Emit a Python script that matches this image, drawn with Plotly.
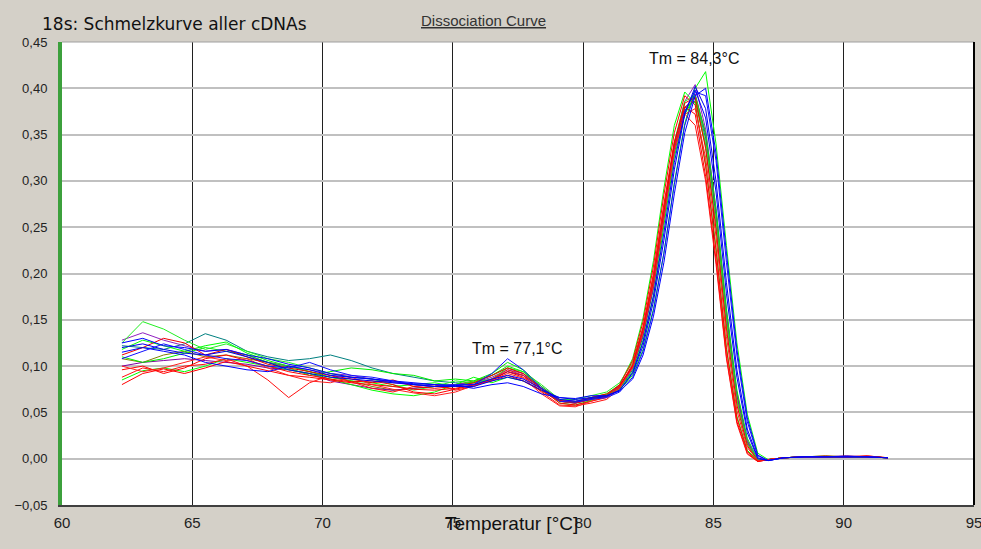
import plotly.graph_objects as go

# Temperatures (°C), shared by all curves
temps = [62.3, 63.1, 63.9, 64.7, 65.5, 66.3, 67.1, 67.9, 68.7, 69.5, 70.3, 71.1, 71.9, 72.7,
         73.5, 74.3, 75.1, 75.8, 76.5, 77.1, 77.7, 78.4, 79.1, 79.7, 80.3,
         80.9, 81.4, 81.9, 82.3, 82.7, 83.1, 83.5, 83.9, 84.3, 84.7, 85.1, 85.5, 85.9, 86.3, 86.7, 87.1,
         87.7, 88.5, 89.3, 90.1, 90.9, 91.7]

# -dF/dT values per sample
R1 = [0.080, 0.092, 0.097, 0.092, 0.098, 0.105, 0.100, 0.095, 0.090, 0.088, 0.085, 0.082, 0.080, 0.078, 0.075, 0.074, 0.076, 0.080, 0.085, 0.094, 0.088, 0.075, 0.060, 0.058, 0.062,
      0.066, 0.078, 0.102, 0.142, 0.200, 0.275, 0.342, 0.380, 0.372, 0.305, 0.215, 0.110, 0.040, 0.006, -0.003, -0.001, 0.001, 0.002, 0.003, 0.002, 0.003, 0.001]
R2 = [0.088, 0.098, 0.094, 0.100, 0.102, 0.108, 0.100, 0.085, 0.066, 0.082, 0.090, 0.083, 0.076, 0.072, 0.078, 0.080, 0.074, 0.078, 0.086, 0.096, 0.090, 0.072, 0.058, 0.057, 0.060,
      0.064, 0.076, 0.100, 0.140, 0.198, 0.272, 0.338, 0.372, 0.360, 0.300, 0.210, 0.108, 0.038, 0.005, -0.003, -0.001, 0.001, 0.002, 0.002, 0.002, 0.002, 0.001]
R3 = [0.096, 0.100, 0.092, 0.098, 0.108, 0.112, 0.106, 0.100, 0.094, 0.090, 0.086, 0.083, 0.084, 0.080, 0.072, 0.070, 0.075, 0.080, 0.084, 0.090, 0.084, 0.073, 0.062, 0.060, 0.064,
      0.068, 0.080, 0.106, 0.148, 0.208, 0.285, 0.352, 0.392, 0.382, 0.316, 0.225, 0.118, 0.044, 0.008, -0.003, -0.001, 0.001, 0.002, 0.002, 0.003, 0.002, 0.001]
R4 = [0.112, 0.120, 0.130, 0.125, 0.112, 0.118, 0.110, 0.102, 0.098, 0.094, 0.090, 0.086, 0.082, 0.085, 0.078, 0.076, 0.078, 0.082, 0.090, 0.098, 0.092, 0.076, 0.063, 0.061, 0.066,
      0.070, 0.079, 0.100, 0.138, 0.192, 0.268, 0.340, 0.384, 0.390, 0.335, 0.248, 0.140, 0.058, 0.014, -0.002, -0.001, 0.001, 0.002, 0.002, 0.002, 0.003, 0.001]
R5 = [0.100, 0.094, 0.098, 0.104, 0.110, 0.106, 0.108, 0.098, 0.090, 0.084, 0.082, 0.088, 0.080, 0.075, 0.071, 0.068, 0.072, 0.079, 0.085, 0.092, 0.087, 0.070, 0.057, 0.056, 0.062,
      0.067, 0.077, 0.098, 0.136, 0.188, 0.262, 0.332, 0.372, 0.378, 0.325, 0.240, 0.132, 0.052, 0.012, -0.002, -0.001, 0.001, 0.002, 0.002, 0.002, 0.002, 0.001]
G1 = [0.125, 0.148, 0.140, 0.128, 0.118, 0.124, 0.116, 0.108, 0.104, 0.098, 0.092, 0.088, 0.086, 0.080, 0.074, 0.078, 0.084, 0.082, 0.086, 0.098, 0.094, 0.080, 0.064, 0.064, 0.068,
      0.072, 0.082, 0.104, 0.142, 0.196, 0.270, 0.342, 0.386, 0.392, 0.340, 0.255, 0.148, 0.062, 0.016, -0.001, -0.001, 0.001, 0.002, 0.002, 0.002, 0.002, 0.001]
G2 = [0.085, 0.095, 0.098, 0.094, 0.100, 0.108, 0.104, 0.100, 0.096, 0.092, 0.086, 0.080, 0.074, 0.070, 0.068, 0.072, 0.080, 0.088, 0.082, 0.088, 0.084, 0.074, 0.062, 0.061, 0.066,
      0.070, 0.080, 0.108, 0.152, 0.214, 0.292, 0.360, 0.396, 0.384, 0.318, 0.228, 0.120, 0.046, 0.009, -0.002, -0.001, 0.001, 0.002, 0.002, 0.002, 0.002, 0.001]
G3 = [0.110, 0.104, 0.108, 0.114, 0.120, 0.116, 0.112, 0.104, 0.098, 0.090, 0.094, 0.098, 0.096, 0.092, 0.090, 0.084, 0.086, 0.084, 0.092, 0.104, 0.096, 0.078, 0.062, 0.061, 0.065,
      0.069, 0.076, 0.094, 0.128, 0.176, 0.252, 0.326, 0.372, 0.392, 0.352, 0.270, 0.162, 0.074, 0.022, -0.001, -0.001, 0.001, 0.002, 0.003, 0.002, 0.002, 0.001]
G4 = [0.118, 0.128, 0.122, 0.116, 0.122, 0.126, 0.114, 0.106, 0.100, 0.094, 0.088, 0.084, 0.082, 0.078, 0.080, 0.082, 0.078, 0.083, 0.090, 0.100, 0.094, 0.076, 0.060, 0.058, 0.063,
      0.068, 0.074, 0.090, 0.118, 0.162, 0.222, 0.298, 0.362, 0.400, 0.418, 0.340, 0.230, 0.125, 0.048, 0.006, -0.001, 0.001, 0.002, 0.002, 0.002, 0.002, 0.001]
B1 = [0.120, 0.124, 0.118, 0.114, 0.112, 0.116, 0.110, 0.104, 0.096, 0.092, 0.088, 0.086, 0.084, 0.082, 0.080, 0.078, 0.078, 0.078, 0.084, 0.088, 0.084, 0.074, 0.066, 0.064, 0.066,
      0.068, 0.074, 0.092, 0.122, 0.170, 0.236, 0.312, 0.372, 0.402, 0.378, 0.300, 0.190, 0.096, 0.032, 0.001, -0.002, 0.001, 0.002, 0.002, 0.002, 0.002, 0.001]
B2 = [0.108, 0.116, 0.124, 0.118, 0.112, 0.108, 0.106, 0.100, 0.098, 0.104, 0.096, 0.090, 0.088, 0.084, 0.080, 0.078, 0.080, 0.080, 0.092, 0.108, 0.096, 0.076, 0.062, 0.061, 0.064,
      0.066, 0.072, 0.088, 0.116, 0.160, 0.222, 0.296, 0.360, 0.396, 0.392, 0.322, 0.212, 0.112, 0.040, 0.003, -0.002, 0.001, 0.002, 0.002, 0.003, 0.002, 0.001]
B3 = [0.125, 0.130, 0.122, 0.120, 0.116, 0.118, 0.112, 0.108, 0.102, 0.098, 0.092, 0.088, 0.086, 0.084, 0.082, 0.080, 0.079, 0.076, 0.080, 0.082, 0.078, 0.070, 0.066, 0.065, 0.068,
      0.068, 0.073, 0.086, 0.112, 0.154, 0.212, 0.286, 0.352, 0.392, 0.400, 0.330, 0.222, 0.118, 0.044, 0.004, -0.002, 0.001, 0.002, 0.002, 0.002, 0.002, 0.001]
B4 = [0.115, 0.120, 0.116, 0.112, 0.104, 0.100, 0.096, 0.094, 0.100, 0.096, 0.090, 0.088, 0.086, 0.083, 0.081, 0.080, 0.079, 0.080, 0.086, 0.090, 0.086, 0.076, 0.064, 0.062, 0.065,
      0.067, 0.074, 0.093, 0.126, 0.176, 0.244, 0.320, 0.374, 0.398, 0.368, 0.288, 0.178, 0.088, 0.028, 0.000, -0.002, 0.001, 0.002, 0.002, 0.002, 0.002, 0.001]
P1 = [0.128, 0.136, 0.128, 0.122, 0.116, 0.118, 0.112, 0.104, 0.100, 0.096, 0.092, 0.090, 0.086, 0.082, 0.080, 0.078, 0.080, 0.082, 0.088, 0.096, 0.092, 0.078, 0.064, 0.062, 0.066,
      0.069, 0.078, 0.100, 0.138, 0.192, 0.268, 0.340, 0.386, 0.404, 0.356, 0.270, 0.160, 0.072, 0.020, -0.002, -0.001, 0.001, 0.002, 0.002, 0.002, 0.002, 0.001]
P2 = [0.100, 0.104, 0.106, 0.108, 0.106, 0.104, 0.102, 0.098, 0.096, 0.092, 0.084, 0.080, 0.076, 0.074, 0.076, 0.078, 0.080, 0.082, 0.086, 0.094, 0.090, 0.076, 0.062, 0.060, 0.064,
      0.068, 0.077, 0.098, 0.134, 0.186, 0.262, 0.334, 0.378, 0.394, 0.350, 0.266, 0.156, 0.070, 0.019, -0.002, -0.001, 0.001, 0.002, 0.002, 0.002, 0.002, 0.001]
T1 = [0.122, 0.120, 0.118, 0.124, 0.135, 0.128, 0.116, 0.110, 0.106, 0.108, 0.112, 0.106, 0.098, 0.092, 0.088, 0.084, 0.082, 0.080, 0.086, 0.094, 0.090, 0.076, 0.064, 0.062, 0.066,
      0.068, 0.076, 0.096, 0.132, 0.184, 0.258, 0.330, 0.376, 0.390, 0.346, 0.262, 0.152, 0.068, 0.018, -0.002, -0.001, 0.001, 0.002, 0.002, 0.002, 0.002, 0.001]
O1 = [0.108, 0.104, 0.112, 0.116, 0.110, 0.112, 0.108, 0.104, 0.100, 0.094, 0.088, 0.084, 0.078, 0.074, 0.076, 0.078, 0.080, 0.084, 0.090, 0.098, 0.092, 0.076, 0.062, 0.060, 0.064,
      0.069, 0.078, 0.099, 0.136, 0.190, 0.264, 0.336, 0.380, 0.386, 0.338, 0.254, 0.146, 0.064, 0.016, -0.002, -0.001, 0.001, 0.002, 0.002, 0.002, 0.002, 0.001]

series = [
    (T1, "#008080"), (O1, "#808000"), (P2, "#8000a0"), (P1, "#9020c0"),
    (G3, "#00ee00"), (G2, "#00ff00"), (G1, "#22ee22"), (G4, "#00ff00"),
    (R1, "#ff0000"), (R2, "#ff1010"), (R3, "#ff0000"), (R4, "#ee0000"), (R5, "#ff2020"),
    (B4, "#0000ff"), (B3, "#0000ff"), (B2, "#1010ff"), (B1, "#0000ee"),
]

x_ticks = [60, 65, 70, 75, 80, 85, 90, 95]
y_ticks = [-0.05, 0.0, 0.05, 0.10, 0.15, 0.20, 0.25, 0.30, 0.35, 0.40, 0.45]

fig = go.Figure()
for ys, col in series:
    fig.add_trace(go.Scatter(x=temps, y=ys, mode="lines",
                             line=dict(color=col, width=1), showlegend=False,
                             hoverinfo="skip"))

font_main = "Liberation Sans, Arial, sans-serif"
fig.update_layout(
    width=981, height=549,
    margin=dict(l=62, r=7, t=42, b=44),
    paper_bgcolor="#d4d0c8", plot_bgcolor="white",
    separators=",.",
    showlegend=False,
    font=dict(family=font_main, color="#222222"),
    xaxis=dict(range=[60, 95], tickvals=x_ticks, showgrid=True, gridcolor="#202020",
               gridwidth=1, zeroline=False, showline=True, linecolor="#404040",
               linewidth=2, ticks="", automargin=False, ticklabeloverflow="allow",
               tickfont=dict(size=15, family="Liberation Sans Narrow, Arial Narrow, sans-serif", color="#222222"),
               ticklabelstandoff=3),
    yaxis=dict(range=[-0.05, 0.45], tickvals=y_ticks, tickformat=".2f", showgrid=True,
               gridcolor="#c0c0c0", gridwidth=2, zeroline=False, showline=True,
               linecolor="#3ca03c", linewidth=4, ticks="",
               tickfont=dict(size=13, color="#222222"), ticklabelstandoff=8),
)

# frame: top (grey) and right (black)
fig.add_shape(type="line", xref="paper", yref="paper", x0=0, x1=1, y0=1, y1=1,
              line=dict(color="#a0a0a0", width=1))
fig.add_shape(type="line", xref="paper", yref="paper", x0=1, x1=1, y0=0, y1=1,
              line=dict(color="#000000", width=2))

fig.add_annotation(x=-0.024, xref="paper", y=1.039, yref="paper", xanchor="left",
                   yanchor="middle", text="18s: Schmelzkurve aller cDNAs", showarrow=False,
                   font=dict(size=17, color="#111111", family="DejaVu Sans, sans-serif"))
fig.add_annotation(x=0.4627, xref="paper", y=1.0475, yref="paper",
                   xanchor="center", yanchor="middle", text="<u>Dissociation Curve</u>",
                   showarrow=False, font=dict(size=15, color="#333333", family=font_main))
fig.add_annotation(x=77.46, y=0.119, text="Tm = 77,1°C", showarrow=False,
                   font=dict(size=16, color="#111111", family=font_main))
fig.add_annotation(x=84.25, y=0.4327, text="Tm = 84,3°C", showarrow=False,
                   font=dict(size=16, color="#111111", family=font_main))
fig.add_annotation(x=0.493, xref="paper", y=-0.041, yref="paper",
                   xanchor="center", yanchor="middle", text="Temperatur [°C]",
                   showarrow=False, font=dict(size=19, color="#111111", family=font_main))

fig.write_html("out.html")
